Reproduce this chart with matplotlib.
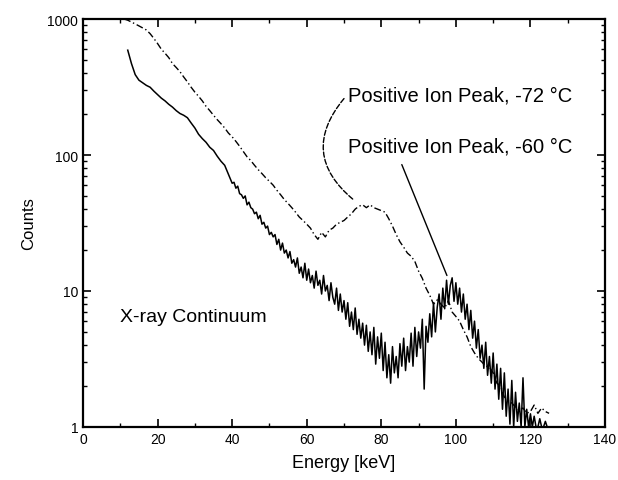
import numpy as np
import matplotlib
matplotlib.use("Agg")
import matplotlib.pyplot as plt
from matplotlib.ticker import FixedLocator, FixedFormatter, LogLocator, NullFormatter

plt.rcParams["font.family"] = ["Liberation Sans", "DejaVu Sans"]

# -72 C run, one point per keV channel
energy_72 = np.arange(11, 126)
counts_72 = [
    1000, 980, 950, 920, 890, 860, 830, 780, 720, 660,
    600, 560, 520, 470, 440, 410, 375, 345, 315, 290,
    270, 250, 228, 212, 196, 182, 170, 158, 145, 136,
    126, 116, 106, 97, 91, 84, 78, 73, 68, 64,
    60, 55, 51, 47, 44, 41, 38, 35, 33, 31,
    29, 26, 24, 27, 25, 28, 29, 31, 32, 33,
    35, 37, 40, 42, 43, 41, 43, 41, 40, 39,
    38, 34, 30, 26, 23, 21, 19, 18, 16.5, 14,
    12.4, 10.5, 9.3, 8.0, 8.6, 8.0, 7.5, 8.5, 7.0, 6.5,
    6.0, 5.2, 4.6, 3.9, 3.5, 3.2, 3.0, 2.8, 2.75, 2.5,
    2.1, 2.0, 1.66, 1.58, 1.5, 1.4, 1.32, 1.38, 1.26, 1.3,
    1.45, 1.26, 1.38, 1.3, 1.26,
]

# -60 C run: 1 keV channels up to 40 keV, 0.5 keV channels above
energy_60 = np.concatenate([np.arange(12, 41, 1.0), np.arange(40.5, 125.5, 0.5)])
counts_60 = [
    590, 470, 390, 355, 340, 325, 315, 295, 278, 262,
    250, 236, 225, 212, 202, 196, 188, 172, 158, 142,
    132, 124, 114, 108, 98, 90, 84, 72, 62,
    63, 57, 59, 52, 51, 48, 50, 43, 45, 41,
    40, 37, 38, 34, 36, 31, 32, 29, 30, 26,
    27, 25, 26, 22, 24, 20, 22.5, 19, 20, 17.5,
    19.5, 16, 17, 15, 17.5, 13.5, 15, 12.5, 16, 12,
    14.5, 11.5, 13, 10.5, 14, 11, 12, 9.5, 13, 10,
    11, 8.5, 11.5, 9, 8, 10.5, 7.2, 9.5, 7, 8.5,
    6.2, 8.2, 5.5, 7, 5.2, 7.5, 4.8, 6.2, 4.5, 5.8,
    4.0, 5.6, 3.6, 5.0, 3.4, 5.4, 2.9, 4.6, 3.2, 4.9,
    2.6, 4.2, 2.3, 3.4, 2.1, 3.9, 2.5, 3.3, 2.3, 4.1,
    2.8, 4.5, 2.6, 3.9, 3.0, 4.9, 2.8, 5.4, 3.3, 5.0,
    3.8, 6.2, 1.9, 5.5, 4.2, 6.8, 4.6, 8.2, 5.0, 7.6,
    9.5, 6.2, 10.5, 7.4, 12.0, 8.0, 11.0, 12.5, 8.4, 11.5,
    8.0, 10.5, 7.0, 9.5, 6.2, 8.0, 5.2, 7.2, 4.5, 6.0,
    3.8, 5.2, 3.2, 4.0, 2.7, 4.2, 2.4, 3.3, 2.1, 3.5,
    1.9, 2.9, 1.6, 2.7, 1.35, 2.5, 1.2, 1.9, 1.05, 2.2,
    1.0, 1.8, 1.1, 1.5, 1.0, 2.3, 1.0, 1.35, 1.0, 1.25,
    1.0, 1.2, 1.0, 1.0, 1.15, 1.0, 1.0, 1.1, 1.0, 1.0,
]

x_ticks = [0, 20, 40, 60, 80, 100, 120, 140]
y_ticks = [1, 10, 100, 1000]
y_tick_labels = ["1", "10", "100", "1000"]

fig = plt.figure(figsize=(6.18, 4.81), dpi=100)
ax = fig.add_axes([0.1343, 0.1102, 0.8447, 0.8482])

ax.plot(energy_72, counts_72, color="black", lw=1.0, linestyle=(0, (5, 2, 1, 2)))
ax.plot(energy_60, counts_60, color="black", lw=1.1)

ax.set_yscale("log")
ax.set_xlim(0, 140)
ax.set_ylim(1, 1000)

ax.xaxis.set_major_locator(FixedLocator(x_ticks))
ax.xaxis.set_minor_locator(FixedLocator(np.arange(10, 140, 20)))
ax.yaxis.set_major_locator(FixedLocator(y_ticks))
ax.yaxis.set_major_formatter(FixedFormatter(y_tick_labels))
ax.yaxis.set_minor_locator(LogLocator(base=10, subs=np.arange(2, 10)))
ax.yaxis.set_minor_formatter(NullFormatter())
ax.tick_params(which="both", direction="in", top=True, right=True, labelsize=10)
ax.tick_params(which="major", length=6, width=1.2)
ax.tick_params(which="minor", length=3, width=1.0)
for s in ax.spines.values():
    s.set_linewidth(1.6)

ax.set_xlabel("Energy [keV]", fontsize=13, labelpad=6)
ax.set_ylabel("Counts", fontsize=12, labelpad=8)

ax.text(71, 275, "Positive Ion Peak, -72 °C", fontsize=14.5, va="center", ha="left")
ax.text(71, 117, "Positive Ion Peak, -60 °C", fontsize=14.5, va="center", ha="left")
ax.text(10, 6.5, "X-ray Continuum", fontsize=14, va="center", ha="left")

# connector lines from labels to the peaks
ax.annotate("", xy=(72.5, 47), xytext=(70, 260),
            arrowprops=dict(arrowstyle="-", color="black", lw=1.0, linestyle="--",
                            connectionstyle="arc3,rad=0.5", shrinkA=0, shrinkB=0))
ax.annotate("", xy=(97.6, 13), xytext=(85.5, 85),
            arrowprops=dict(arrowstyle="-", color="black", lw=1.0,
                            shrinkA=0, shrinkB=0))

plt.savefig("out.png", dpi=100)
plt.close()
